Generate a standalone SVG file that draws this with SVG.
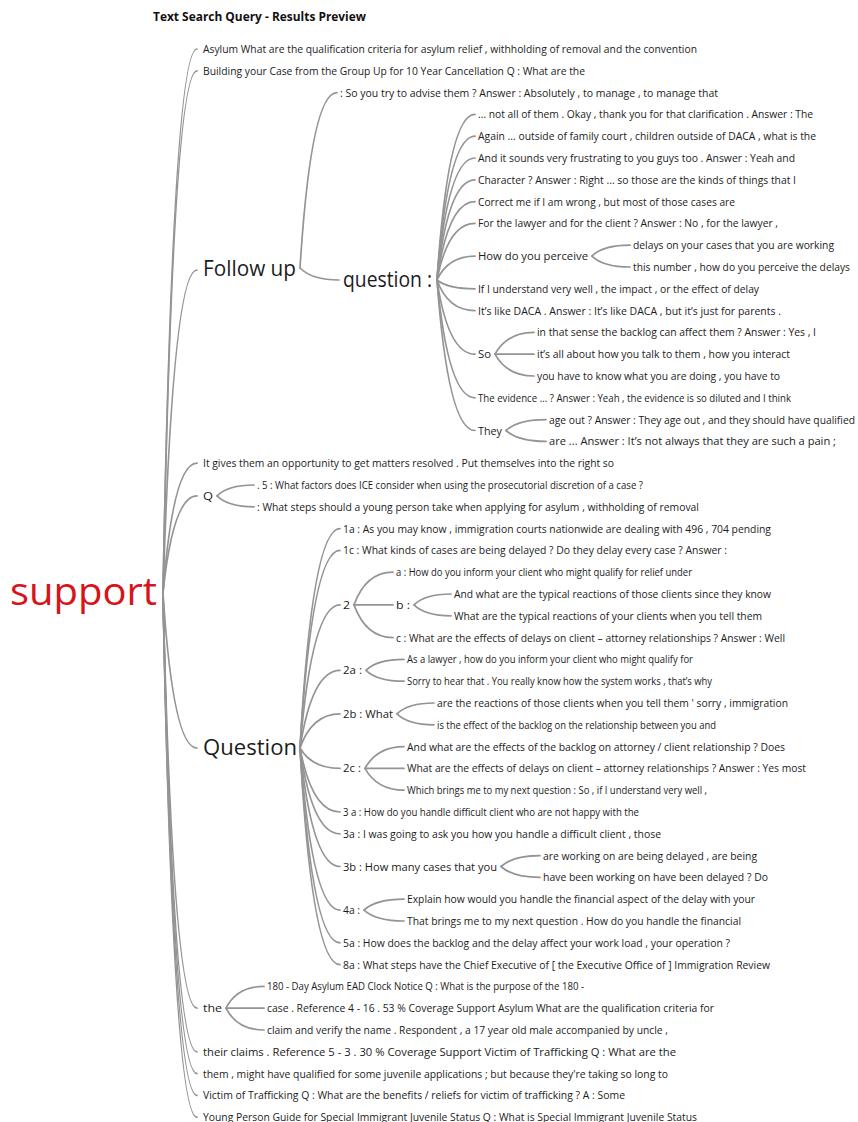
<svg xmlns="http://www.w3.org/2000/svg" width="858" height="1122" viewBox="0 0 858 1122">
  <style>
    text { font-family: "Open Sans", "Noto Sans", "Liberation Sans", sans-serif; fill: #1c1c1c; }
    .t { font-size: 11.5px; }
    .big { font-size: 21px; }
    .root { font-size: 38px; fill: #d7141a; }
    .title { font-size: 12px; font-weight: bold; fill: #111; }
    .link { fill: none; stroke: #949494; stroke-width: 1.7; stroke-linecap: round; }
  </style>
  <rect width="858" height="1122" fill="#fff"/>

  <text class="title" x="153" y="21" textLength="213" lengthAdjust="spacingAndGlyphs">Text Search Query - Results Preview</text>

  <!-- connectors: quadratic curves from a parent's right edge to each child's left edge -->
  <g id="connectors">
    <!-- support -->
    <path class="link" d="M163,593 Q173,49 197,49"/>
    <path class="link" d="M163,593 Q173,70.8 197,70.8"/>
    <path class="link" d="M163,593 Q173,270 197,270"/>
    <path class="link" d="M163,593 Q173,463.2 197,463.2"/>
    <path class="link" d="M163,593 Q173,495.9 197,495.9"/>
    <path class="link" d="M163,593 Q173,748 197,748"/>
    <path class="link" d="M163,593 Q173,1008.2 197,1008.2"/>
    <path class="link" d="M163,593 Q173,1051.8 197,1051.8"/>
    <path class="link" d="M163,593 Q173,1073.6 197,1073.6"/>
    <path class="link" d="M163,593 Q173,1095.4 197,1095.4"/>
    <path class="link" d="M163,593 Q173,1117.2 197,1117.2"/>
    <!-- Follow up -->
    <path class="link" d="M300,268 Q311,92.6 337,92.6"/>
    <path class="link" d="M300,268 Q312,280 339,280"/>
    <!-- question : -->
    <path class="link" d="M437,280 Q448,114.4 475,114.4"/>
    <path class="link" d="M437,280 Q448,136.2 475,136.2"/>
    <path class="link" d="M437,280 Q448,158 475,158"/>
    <path class="link" d="M437,280 Q448,179.8 475,179.8"/>
    <path class="link" d="M437,280 Q448,201.6 475,201.6"/>
    <path class="link" d="M437,280 Q448,223.4 475,223.4"/>
    <path class="link" d="M437,280 Q448,256.1 475,256.1"/>
    <path class="link" d="M437,280 Q448,288.8 475,288.8"/>
    <path class="link" d="M437,280 Q448,310.6 475,310.6"/>
    <path class="link" d="M437,280 Q448,354.2 475,354.2"/>
    <path class="link" d="M437,280 Q448,397.8 475,397.8"/>
    <path class="link" d="M437,280 Q448,430.5 475,430.5"/>
    <!-- How do you perceive -->
    <path class="link" d="M592,256.1 Q603,245.2 630,245.2"/>
    <path class="link" d="M592,256.1 Q603,267 630,267"/>
    <!-- So -->
    <path class="link" d="M495,354.2 Q507,332.4 534,332.4"/>
    <path class="link" d="M495,354.2 Q507,354.2 534,354.2"/>
    <path class="link" d="M495,354.2 Q507,376 534,376"/>
    <!-- They -->
    <path class="link" d="M506,430.5 Q518,419.6 546,419.6"/>
    <path class="link" d="M506,430.5 Q518,441.4 546,441.4"/>
    <!-- Q -->
    <path class="link" d="M217,495.9 Q228,485 254,485"/>
    <path class="link" d="M217,495.9 Q228,506.8 254,506.8"/>
    <!-- Question -->
    <path class="link" d="M300,748 Q312,528.6 340,528.6"/>
    <path class="link" d="M300,748 Q312,550.4 340,550.4"/>
    <path class="link" d="M300,748 Q312,604.9 340,604.9"/>
    <path class="link" d="M300,748 Q312,670.3 340,670.3"/>
    <path class="link" d="M300,748 Q312,713.9 340,713.9"/>
    <path class="link" d="M300,748 Q312,768.4 340,768.4"/>
    <path class="link" d="M300,748 Q312,812 340,812"/>
    <path class="link" d="M300,748 Q312,833.8 340,833.8"/>
    <path class="link" d="M300,748 Q312,866.5 340,866.5"/>
    <path class="link" d="M300,748 Q312,910.1 340,910.1"/>
    <path class="link" d="M300,748 Q312,942.8 340,942.8"/>
    <path class="link" d="M300,748 Q312,964.6 340,964.6"/>
    <!-- 2 -->
    <path class="link" d="M354,604.9 Q366,572.2 393,572.2"/>
    <path class="link" d="M354,604.9 Q366,604.9 393,604.9"/>
    <path class="link" d="M354,604.9 Q366,637.6 393,637.6"/>
    <!-- b : -->
    <path class="link" d="M414,604.9 Q425,594 451,594"/>
    <path class="link" d="M414,604.9 Q425,615.8 451,615.8"/>
    <!-- 2a : -->
    <path class="link" d="M366,670.3 Q377,659.4 404,659.4"/>
    <path class="link" d="M366,670.3 Q377,681.2 404,681.2"/>
    <!-- 2b : What -->
    <path class="link" d="M397,713.9 Q408,703 434,703"/>
    <path class="link" d="M397,713.9 Q408,724.8 434,724.8"/>
    <!-- 2c : -->
    <path class="link" d="M365,768.4 Q377,746.6 404,746.6"/>
    <path class="link" d="M365,768.4 Q377,768.4 404,768.4"/>
    <path class="link" d="M365,768.4 Q377,790.2 404,790.2"/>
    <!-- 3b : How many cases that you -->
    <path class="link" d="M501,866.5 Q513,855.6 540,855.6"/>
    <path class="link" d="M501,866.5 Q513,877.4 540,877.4"/>
    <!-- 4a : -->
    <path class="link" d="M364,910.1 Q376,899.2 404,899.2"/>
    <path class="link" d="M364,910.1 Q376,921 404,921"/>
    <!-- the -->
    <path class="link" d="M226,1008.2 Q237,986.4 264,986.4"/>
    <path class="link" d="M226,1008.2 Q237,1008.2 264,1008.2"/>
    <path class="link" d="M226,1008.2 Q237,1030 264,1030"/>
  </g>

  <!-- root -->
  <g id="n-support"><text class="root" x="10" y="605" textLength="147" lengthAdjust="spacingAndGlyphs">support</text></g>

  <!-- first level -->
  <g id="n-asylum"><text class="t" x="203" y="53" textLength="494" lengthAdjust="spacingAndGlyphs">Asylum What are the qualification criteria for asylum relief , withholding of removal and the convention</text></g>
  <g id="n-building"><text class="t" x="203" y="74.8" textLength="382" lengthAdjust="spacingAndGlyphs">Building your Case from the Group Up for 10 Year Cancellation Q : What are the</text></g>
  <g id="n-followup"><text class="big" x="203" y="276" textLength="93" lengthAdjust="spacingAndGlyphs">Follow up</text></g>
  <g id="n-gives"><text class="t" x="203" y="467.2" textLength="411" lengthAdjust="spacingAndGlyphs">It gives them an opportunity to get matters resolved . Put themselves into the right so</text></g>
  <g id="n-q"><text class="t" x="203" y="499.9" textLength="10" lengthAdjust="spacingAndGlyphs">Q</text></g>
  <g id="n-question"><text class="big" x="203" y="755" textLength="94" lengthAdjust="spacingAndGlyphs">Question</text></g>
  <g id="n-the"><text class="t" x="203" y="1012.2" textLength="19" lengthAdjust="spacingAndGlyphs">the</text></g>
  <g id="n-theirclaims"><text class="t" x="203" y="1055.8" textLength="473" lengthAdjust="spacingAndGlyphs">their claims . Reference 5 - 3 . 30 % Coverage Support Victim of Trafficking Q : What are the</text></g>
  <g id="n-them"><text class="t" x="203" y="1077.6" textLength="465" lengthAdjust="spacingAndGlyphs">them , might have qualified for some juvenile applications ; but because they're taking so long to</text></g>
  <g id="n-victim"><text class="t" x="203" y="1099.4" textLength="422" lengthAdjust="spacingAndGlyphs">Victim of Trafficking Q : What are the benefits / reliefs for victim of trafficking ? A : Some</text></g>
  <g id="n-young"><text class="t" x="203" y="1120.5" textLength="494" lengthAdjust="spacingAndGlyphs">Young Person Guide for Special Immigrant Juvenile Status Q : What is Special Immigrant Juvenile Status</text></g>

  <!-- Follow up branch -->
  <g id="n-soyoutry"><text class="t" x="340" y="96.6" textLength="378" lengthAdjust="spacingAndGlyphs">: So you try to advise them ? Answer : Absolutely , to manage , to manage that</text></g>
  <g id="n-questioncolon"><text class="big" x="343" y="287" textLength="89" lengthAdjust="spacingAndGlyphs">question :</text></g>

  <g id="n-notall"><text class="t" x="478" y="118.4" textLength="335" lengthAdjust="spacingAndGlyphs">... not all of them . Okay , thank you for that clarification . Answer : The</text></g>
  <g id="n-again"><text class="t" x="478" y="140.2" textLength="338" lengthAdjust="spacingAndGlyphs">Again ... outside of family court , children outside of DACA , what is the</text></g>
  <g id="n-andit"><text class="t" x="478" y="162" textLength="317" lengthAdjust="spacingAndGlyphs">And it sounds very frustrating to you guys too . Answer : Yeah and</text></g>
  <g id="n-character"><text class="t" x="478" y="183.8" textLength="318" lengthAdjust="spacingAndGlyphs">Character ? Answer : Right ... so those are the kinds of things that I</text></g>
  <g id="n-correct"><text class="t" x="478" y="205.6" textLength="257" lengthAdjust="spacingAndGlyphs">Correct me if I am wrong , but most of those cases are</text></g>
  <g id="n-forthelawyer"><text class="t" x="478" y="227.4" textLength="300" lengthAdjust="spacingAndGlyphs">For the lawyer and for the client ? Answer : No , for the lawyer ,</text></g>
  <g id="n-perceive"><text class="t" x="478" y="260.1" textLength="110" lengthAdjust="spacingAndGlyphs">How do you perceive</text></g>
  <g id="n-delays"><text class="t" x="633" y="249.2" textLength="201" lengthAdjust="spacingAndGlyphs">delays on your cases that you are working</text></g>
  <g id="n-thisnumber"><text class="t" x="633" y="271" textLength="217" lengthAdjust="spacingAndGlyphs">this number , how do you perceive the delays</text></g>
  <g id="n-ifiunderstand"><text class="t" x="478" y="292.8" textLength="281" lengthAdjust="spacingAndGlyphs">If I understand very well , the impact , or the effect of delay</text></g>
  <g id="n-itslike"><text class="t" x="478" y="314.6" textLength="303" lengthAdjust="spacingAndGlyphs">It’s like DACA . Answer : It’s like DACA , but it’s just for parents .</text></g>
  <g id="n-so"><text class="t" x="478" y="358.2" textLength="13" lengthAdjust="spacingAndGlyphs">So</text></g>
  <g id="n-inthatsense"><text class="t" x="537" y="336.4" textLength="279" lengthAdjust="spacingAndGlyphs">in that sense the backlog can affect them ? Answer : Yes , I</text></g>
  <g id="n-itsallabout"><text class="t" x="537" y="358.2" textLength="253" lengthAdjust="spacingAndGlyphs">it’s all about how you talk to them , how you interact</text></g>
  <g id="n-youhavetoknow"><text class="t" x="537" y="380" textLength="243" lengthAdjust="spacingAndGlyphs">you have to know what you are doing , you have to</text></g>
  <g id="n-evidence"><text class="t" x="478" y="401.8" textLength="313" lengthAdjust="spacingAndGlyphs">The evidence ... ? Answer : Yeah , the evidence is so diluted and I think</text></g>
  <g id="n-they"><text class="t" x="478" y="434.5" textLength="24" lengthAdjust="spacingAndGlyphs">They</text></g>
  <g id="n-ageout"><text class="t" x="549" y="423.6" textLength="306" lengthAdjust="spacingAndGlyphs">age out ? Answer : They age out , and they should have qualified</text></g>
  <g id="n-are"><text class="t" x="549" y="445.4" textLength="287" lengthAdjust="spacingAndGlyphs">are ... Answer : It’s not always that they are such a pain ;</text></g>

  <!-- Q branch -->
  <g id="n-five"><text class="t" x="257" y="489" textLength="386" lengthAdjust="spacingAndGlyphs">. 5 : What factors does ICE consider when using the prosecutorial discretion of a case ?</text></g>
  <g id="n-whatsteps"><text class="t" x="257" y="510.8" textLength="442" lengthAdjust="spacingAndGlyphs">: What steps should a young person take when applying for asylum , withholding of removal</text></g>

  <!-- Question branch -->
  <g id="n-1a"><text class="t" x="343" y="532.6" textLength="428" lengthAdjust="spacingAndGlyphs">1a : As you may know , immigration courts nationwide are dealing with 496 , 704 pending</text></g>
  <g id="n-1c"><text class="t" x="343" y="554.4" textLength="384" lengthAdjust="spacingAndGlyphs">1c : What kinds of cases are being delayed ? Do they delay every case ? Answer :</text></g>
  <g id="n-2"><text class="t" x="343" y="608.9" textLength="7" lengthAdjust="spacingAndGlyphs">2</text></g>
  <g id="n-2-a"><text class="t" x="396" y="576.2" textLength="296" lengthAdjust="spacingAndGlyphs">a : How do you inform your client who might qualify for relief under</text></g>
  <g id="n-2-b"><text class="t" x="396" y="608.9" textLength="14" lengthAdjust="spacingAndGlyphs">b :</text></g>
  <g id="n-2-b1"><text class="t" x="454" y="598" textLength="317" lengthAdjust="spacingAndGlyphs">And what are the typical reactions of those clients since they know</text></g>
  <g id="n-2-b2"><text class="t" x="454" y="619.8" textLength="308" lengthAdjust="spacingAndGlyphs">What are the typical reactions of your clients when you tell them</text></g>
  <g id="n-2-c"><text class="t" x="396" y="641.6" textLength="389" lengthAdjust="spacingAndGlyphs">c : What are the effects of delays on client – attorney relationships ? Answer : Well</text></g>
  <g id="n-2a"><text class="t" x="343" y="674.3" textLength="19" lengthAdjust="spacingAndGlyphs">2a :</text></g>
  <g id="n-2a-1"><text class="t" x="407" y="663.4" textLength="286" lengthAdjust="spacingAndGlyphs">As a lawyer , how do you inform your client who might qualify for</text></g>
  <g id="n-2a-2"><text class="t" x="407" y="685.2" textLength="305" lengthAdjust="spacingAndGlyphs">Sorry to hear that . You really know how the system works , that’s why</text></g>
  <g id="n-2b"><text class="t" x="343" y="717.9" textLength="50" lengthAdjust="spacingAndGlyphs">2b : What</text></g>
  <g id="n-2b-1"><text class="t" x="437" y="707" textLength="351" lengthAdjust="spacingAndGlyphs">are the reactions of those clients when you tell them ' sorry , immigration</text></g>
  <g id="n-2b-2"><text class="t" x="437" y="728.8" textLength="279" lengthAdjust="spacingAndGlyphs">is the effect of the backlog on the relationship between you and</text></g>
  <g id="n-2c"><text class="t" x="343" y="772.4" textLength="18" lengthAdjust="spacingAndGlyphs">2c :</text></g>
  <g id="n-2c-1"><text class="t" x="407" y="750.6" textLength="378" lengthAdjust="spacingAndGlyphs">And what are the effects of the backlog on attorney / client relationship ? Does</text></g>
  <g id="n-2c-2"><text class="t" x="407" y="772.4" textLength="399" lengthAdjust="spacingAndGlyphs">What are the effects of delays on client – attorney relationships ? Answer : Yes most</text></g>
  <g id="n-2c-3"><text class="t" x="407" y="794.2" textLength="300" lengthAdjust="spacingAndGlyphs">Which brings me to my next question : So , if I understand very well ,</text></g>
  <g id="n-3a-space"><text class="t" x="343" y="816" textLength="296" lengthAdjust="spacingAndGlyphs">3 a : How do you handle difficult client who are not happy with the</text></g>
  <g id="n-3a"><text class="t" x="343" y="837.8" textLength="318" lengthAdjust="spacingAndGlyphs">3a : I was going to ask you how you handle a difficult client , those</text></g>
  <g id="n-3b"><text class="t" x="343" y="870.5" textLength="154" lengthAdjust="spacingAndGlyphs">3b : How many cases that you</text></g>
  <g id="n-3b-1"><text class="t" x="543" y="859.6" textLength="214" lengthAdjust="spacingAndGlyphs">are working on are being delayed , are being</text></g>
  <g id="n-3b-2"><text class="t" x="543" y="881.4" textLength="225" lengthAdjust="spacingAndGlyphs">have been working on have been delayed ? Do</text></g>
  <g id="n-4a"><text class="t" x="343" y="914.1" textLength="17" lengthAdjust="spacingAndGlyphs">4a :</text></g>
  <g id="n-4a-1"><text class="t" x="407" y="903.2" textLength="348" lengthAdjust="spacingAndGlyphs">Explain how would you handle the financial aspect of the delay with your</text></g>
  <g id="n-4a-2"><text class="t" x="407" y="925" textLength="334" lengthAdjust="spacingAndGlyphs">That brings me to my next question . How do you handle the financial</text></g>
  <g id="n-5a"><text class="t" x="343" y="946.8" textLength="387" lengthAdjust="spacingAndGlyphs">5a : How does the backlog and the delay affect your work load , your operation ?</text></g>
  <g id="n-8a"><text class="t" x="343" y="968.6" textLength="427" lengthAdjust="spacingAndGlyphs">8a : What steps have the Chief Executive of [ the Executive Office of ] Immigration Review</text></g>

  <!-- the branch -->
  <g id="n-180day"><text class="t" x="267" y="990.4" textLength="317" lengthAdjust="spacingAndGlyphs">180 - Day Asylum EAD Clock Notice Q : What is the purpose of the 180 -</text></g>
  <g id="n-case"><text class="t" x="267" y="1012.2" textLength="447" lengthAdjust="spacingAndGlyphs">case . Reference 4 - 16 . 53 % Coverage Support Asylum What are the qualification criteria for</text></g>
  <g id="n-claim"><text class="t" x="267" y="1034" textLength="401" lengthAdjust="spacingAndGlyphs">claim and verify the name . Respondent , a 17 year old male accompanied by uncle ,</text></g>
</svg>
